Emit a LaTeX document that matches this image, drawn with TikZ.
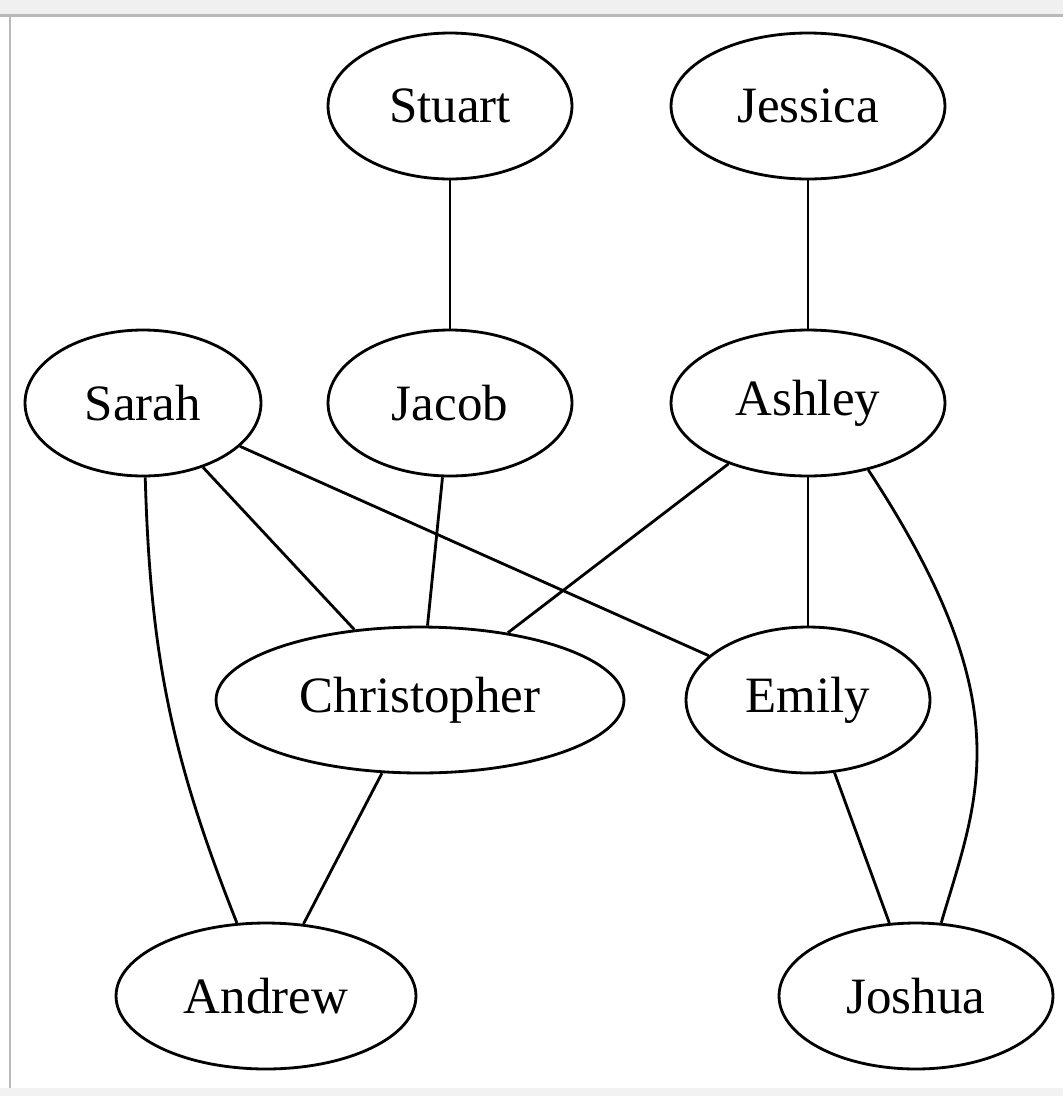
\documentclass[tikz,border=0pt]{standalone}
\usepackage{fontspec}
\setmainfont{Liberation Serif}
\usetikzlibrary{shapes.geometric}

\tikzset{
  person/.style={ellipse, draw, line width=1.6pt, inner sep=0pt,
    minimum height=2.92cm, font=\fontsize{29}{34}\selectfont},
  link/.style={line width=1.6pt}
}

\begin{document}
\begin{tikzpicture}[x=0.02cm, y=-0.02cm]
% window frame
\useasboundingbox (0,0) rectangle (1063,1096);
\fill[gray!12] (0,0) rectangle (1063,15);
\fill[gray!55] (0,14) rectangle (1063,17);
\fill[gray!55] (9,17) rectangle (11,1090);
\fill[gray!10] (0,1088) rectangle (1063,1096);

% people
\node[person, minimum width=4.88cm] (stuart) at (450,106) {Stuart};
\node[person, minimum width=5.48cm] (jessica) at (808,106) {Jessica};
\node[person, minimum width=4.72cm] (sarah) at (143,403) {Sarah};
\node[person, minimum width=4.88cm] (jacob) at (450,403) {Jacob};
\node[person, minimum width=5.48cm] (ashley) at (808,403) {Ashley};
\node[person, minimum width=8.16cm] (christopher) at (420,700) {Christopher};
\node[person, minimum width=4.88cm] (emily) at (808,700) {Emily};
\node[person, minimum width=6.00cm] (andrew) at (266,996) {Andrew};
\node[person, minimum width=5.48cm] (joshua) at (916,996) {Joshua};

% links
\foreach \a/\b in {stuart/jacob, jessica/ashley, sarah/christopher, sarah/emily,
  jacob/christopher, ashley/christopher, ashley/emily, christopher/andrew, emily/joshua}
	\draw[link] (\a) -- (\b);

\draw[link] (sarah) to[bend right=10] (andrew);
\draw[link] (ashley.-48) .. controls (1022,704) and (979,795) .. (joshua.71);
\end{tikzpicture}
\end{document}
